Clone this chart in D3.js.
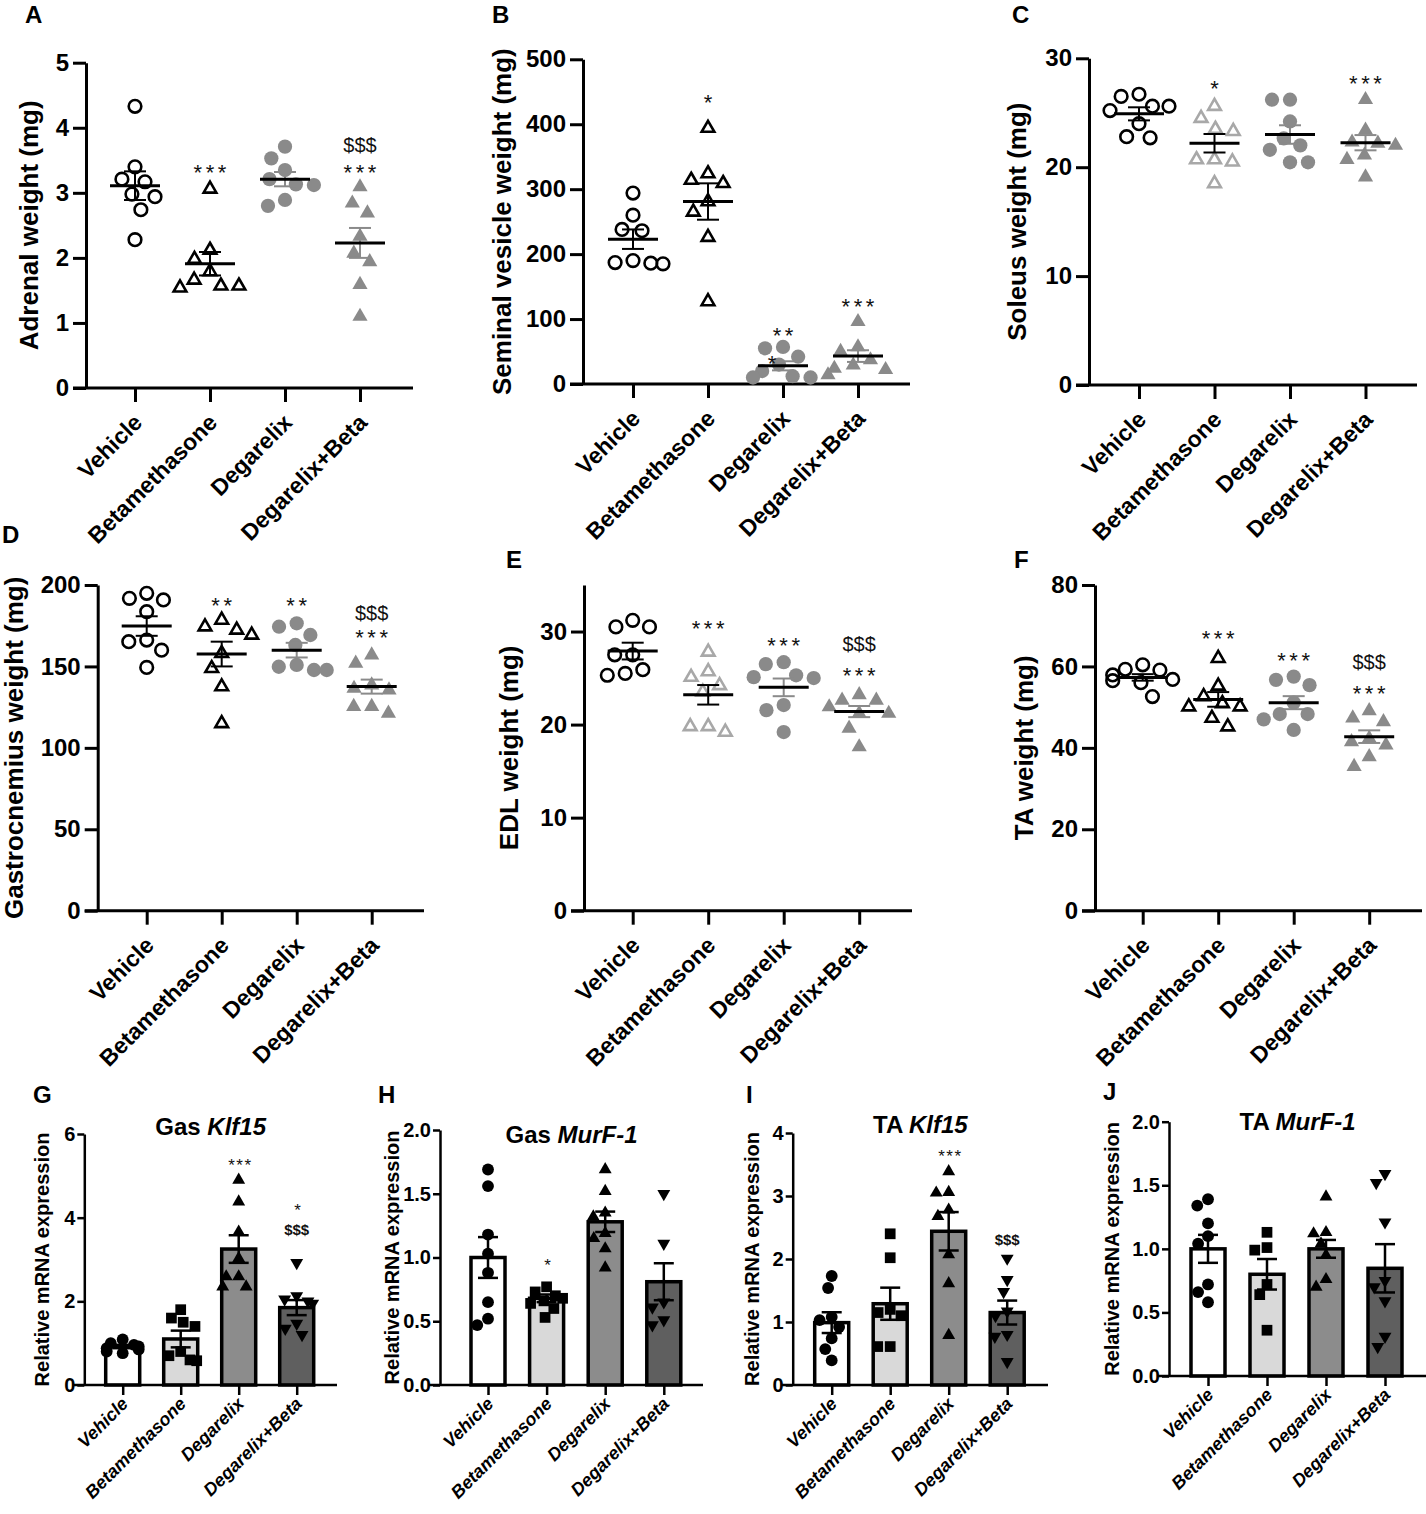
<!DOCTYPE html>
<html>
<head>
<meta charset="utf-8">
<script src="https://cdn.jsdelivr.net/npm/d3@7"></script>
<style>
  body { margin: 0; background: #fff; }
  svg { font-family: "Liberation Sans", Arial, Helvetica, sans-serif; }
</style>
</head>
<body>
<svg id="fig" width="1426" height="1514"></svg>
<script>
'use strict';

// Treatment groups (same order in every panel)
var groups = ['Vehicle', 'Betamethasone', 'Degarelix', 'Degarelix+Beta'];

// A: adrenal weight (mg)
var adrenalVals = [
  [4.33, 3.40, 3.21, 3.17, 2.98, 2.94, 2.74, 2.28],
  [3.06, 2.12, 1.98, 1.79, 1.66, 1.57, 1.57, 1.54],
  [3.71, 3.53, 3.35, 3.21, 3.13, 3.12, 2.89, 2.80],
  [3.09, 2.84, 2.69, 2.33, 2.07, 1.94, 1.59, 1.10]
];
var adrenalMean = [3.11, 1.91, 3.21, 2.23];
var adrenalSem = [0.22, 0.18, 0.11, 0.23];
var adrenalTicks = [0, 1, 2, 3, 4, 5];
var adrenalNotes = [[1, '***', 3.40], [3, '***', 3.40], [3, '$$$', 3.74]];

// B: seminal vesicle weight (mg)
var seminalVals = [
  [294, 260, 238, 236, 190, 187, 186, 185],
  [394, 324, 314, 309, 281, 265, 226, 127],
  [57, 55, 42, 30, 20, 12, 10, 10],
  [96, 57, 50, 37, 29, 24, 22, 14]
];
var seminalMean = [223, 281, 28, 43];
var seminalSem = [15, 28, 7, 9];
var seminalTicks = [0, 100, 200, 300, 400, 500];
var seminalNotes = [[1, '*', 442], [2, '**', 83], [2, '*', 40, -11], [3, '***', 127]];

// C: soleus weight (mg)
var soleusVals = [
  [26.7, 26.5, 25.6, 25.6, 25.2, 24.0, 22.8, 22.7],
  [25.6, 24.5, 23.5, 23.3, 20.7, 20.7, 20.5, 18.5],
  [26.2, 26.2, 24.2, 22.65, 22.0, 21.6, 20.45, 20.45],
  [26.2, 23.4, 22.3, 22.2, 22.0, 21.1, 20.7, 19.1]
];
var soleusMean = [24.9, 22.2, 23.0, 22.25];
var soleusSem = [0.6, 0.85, 0.85, 0.7];
var soleusTicks = [0, 10, 20, 30];
var soleusNotes = [[1, '*', 27.7], [3, '***', 28.2]];

// D: gastrocnemius weight (mg)
var gastroVals = [
  [194.9, 191.8, 190.8, 183.6, 166.2, 165.2, 160, 149.4],
  [178.5, 174.4, 172.4, 169.3, 158, 148.8, 137.6, 115],
  [176.5, 174.4, 169.3, 163.2, 150.9, 149.8, 147.8, 147.8],
  [157, 151.9, 138.6, 136.5, 135.5, 125.3, 125.3, 121.2]
];
var gastroMean = [174.8, 157.6, 160, 137.6];
var gastroSem = [6, 7.6, 4.5, 4.3];
var gastroTicks = [0, 50, 100, 150, 200];
var gastroNotes = [[1, '**', 190.8], [2, '**', 190.8], [3, '***', 170.8], [3, '$$$', 182.5]];

// E: EDL weight (mg)
var edlVals = [
  [31.2, 30.5, 30.5, 27.5, 27.5, 25.9, 25.5, 25.3],
  [27.8, 25.7, 25.1, 24.2, 23.5, 19.8, 19.8, 19.2],
  [26.7, 26.5, 25.3, 25.1, 25.0, 22.1, 21.55, 19.2],
  [23.2, 22.6, 22.6, 21.9, 21.2, 21.2, 19.6, 17.6]
];
var edlMean = [27.9, 23.2, 24.0, 21.4];
var edlSem = [0.9, 1.05, 0.95, 0.6];
var edlTicks = [0, 10, 20, 30];
var edlNotes = [[1, '***', 30.9], [2, '***', 29.1], [3, '***', 25.85], [3, '$$$', 28.7]];

// F: TA weight (mg)
var taVals = [
  [60.4, 59.3, 59.1, 57.9, 56.8, 56.5, 56.0, 52.6],
  [62.0, 55.2, 52.6, 50.9, 50.1, 50.1, 47.3, 45.2],
  [57.5, 56.7, 55.4, 51.1, 48.3, 48.3, 47.0, 44.4],
  [49.1, 47.3, 46.4, 42.3, 41.5, 40.7, 37.8, 35.4]
];
var taMean = [57.3, 51.9, 51.1, 42.75];
var taSem = [0.8, 1.8, 1.6, 1.55];
var taTicks = [0, 20, 40, 60, 80];
var taNotes = [[1, '***', 68.1], [2, '***', 62.8], [3, '***', 54.6], [3, '$$$', 61.2]];

// G: Gas Klf15 relative mRNA
var gasKlfVals = [
  [1.09, 1.0, 0.96, 0.92, 0.88, 0.85, 0.8, 0.76],
  [1.80, 1.60, 1.50, 1.40, 0.80, 0.70, 0.60, 0.58],
  [4.9, 4.38, 3.66, 3.03, 2.59, 2.59, 2.35, 2.35],
  [2.92, 2.13, 2.05, 2.0, 1.95, 1.47, 1.35, 1.2]
];
var gasKlfMean = [0.92, 1.10, 3.25, 1.85];
var gasKlfSem = [0.04, 0.2, 0.33, 0.18];
var gasKlfTicks = [0, 2, 4, 6];
var gasKlfNotes = [[2, '***', 5.34], [3, '*', 4.28], [3, '$$$', 3.7]];

// H: Gas MurF-1 relative mRNA
var gasMurfVals = [
  [1.69, 1.56, 1.18, 1.03, 0.88, 0.65, 0.52, 0.47],
  [0.77, 0.73, 0.70, 0.68, 0.66, 0.64, 0.60, 0.53],
  [1.69, 1.52, 1.35, 1.32, 1.19, 1.15, 1.07, 0.92],
  [1.50, 1.11, 0.65, 0.61, 0.51, 0.47]
];
var gasMurfMean = [1.0, 0.68, 1.28, 0.81];
var gasMurfSem = [0.16, 0.03, 0.08, 0.145];
var gasMurfTicks = [0, 0.5, 1.0, 1.5, 2.0];
var gasMurfNotes = [[1, '*', 0.97]];

// I: TA Klf15 relative mRNA
var taKlfVals = [
  [1.73, 1.54, 1.08, 1.03, 0.92, 0.74, 0.57, 0.39],
  [2.40, 2.02, 1.20, 1.15, 1.10, 0.61, 0.61],
  [3.39, 3.06, 3.05, 2.78, 2.68, 2.07, 1.61, 0.79],
  [2.01, 1.67, 1.48, 1.17, 1.10, 0.80, 0.77, 0.37]
];
var taKlfMean = [0.99, 1.29, 2.44, 1.15];
var taKlfSem = [0.165, 0.255, 0.305, 0.19];
var taKlfTicks = [0, 1, 2, 3, 4];
var taKlfNotes = [[2, '***', 3.69], [3, '$$$', 2.3]];

// J: TA MurF-1 relative mRNA
var taMurfVals = [
  [1.39, 1.34, 1.20, 1.10, 1.04, 0.72, 0.66, 0.58],
  [1.13, 1.01, 0.99, 0.72, 0.64, 0.36],
  [1.41, 1.13, 1.12, 1.04, 0.95, 0.76, 0.70],
  [1.59, 1.52, 1.21, 0.75, 0.70, 0.59, 0.31, 0.23]
];
var taMurfMean = [1.0, 0.80, 1.0, 0.847];
var taMurfSem = [0.11, 0.12, 0.07, 0.19];
var taMurfTicks = [0, 0.5, 1.0, 1.5, 2.0];
var taMurfNotes = [];

// Panel layout (pixels) and which data each panel uses
var panels = [
  { letter: 'A', lx: 25, ly: 23, type: 'dot', vals: adrenalVals, mean: adrenalMean, sem: adrenalSem, ticks: adrenalTicks, notes: adrenalNotes,
    max: 5, fmt: 'd', title: 'Adrenal weight (mg)', tx: 38, ax: 86, top: 62.7, bot: 388, right: 413, first: 49, step: 75, beta: 'black' },
  { letter: 'B', lx: 492, ly: 23, type: 'dot', vals: seminalVals, mean: seminalMean, sem: seminalSem, ticks: seminalTicks, notes: seminalNotes,
    max: 500, fmt: 'd', title: 'Seminal vesicle weight (mg)', tx: 511, ax: 583, top: 59.3, bot: 384, right: 910, first: 50, step: 75, beta: 'black' },
  { letter: 'C', lx: 1012, ly: 23, type: 'dot', vals: soleusVals, mean: soleusMean, sem: soleusSem, ticks: soleusTicks, notes: soleusNotes,
    max: 30, fmt: 'd', title: 'Soleus weight (mg)', tx: 1026, ax: 1089, top: 58.3, bot: 385, right: 1417, first: 50, step: 75.5, beta: 'light' },
  { letter: 'D', lx: 2, ly: 543, type: 'dot', vals: gastroVals, mean: gastroMean, sem: gastroSem, ticks: gastroTicks, notes: gastroNotes,
    max: 200, fmt: 'd', title: 'Gastrocnemius weight (mg)', tx: 23, ax: 97.7, top: 585, bot: 910.7, right: 424, first: 49, step: 75, beta: 'black' },
  { letter: 'E', lx: 506, ly: 568, type: 'dot', vals: edlVals, mean: edlMean, sem: edlSem, ticks: edlTicks, notes: edlNotes,
    max: 35, fmt: 'd', title: 'EDL weight (mg)', tx: 518, ax: 584, top: 585, bot: 910.7, right: 912, first: 48.7, step: 75.5, beta: 'light' },
  { letter: 'F', lx: 1014, ly: 568, type: 'dot', vals: taVals, mean: taMean, sem: taSem, ticks: taTicks, notes: taNotes,
    max: 80, fmt: 'd', title: 'TA weight (mg)', tx: 1033, ax: 1095, top: 585, bot: 910.7, right: 1422, first: 47.7, step: 75.5, beta: 'black' },
  { letter: 'G', lx: 33, ly: 1103, type: 'bar', vals: gasKlfVals, mean: gasKlfMean, sem: gasKlfSem, ticks: gasKlfTicks, notes: gasKlfNotes,
    max: 6, fmt: 'd', gene: ['Gas ', 'Klf15'], gy: 1135, tx: 49, ax: 84.3, top: 1134, bot: 1385, right: 337, first: 38.4, step: 58 },
  { letter: 'H', lx: 378, ly: 1103, type: 'bar', vals: gasMurfVals, mean: gasMurfMean, sem: gasMurfSem, ticks: gasMurfTicks, notes: gasMurfNotes,
    max: 2, fmt: '.1f', gene: ['Gas ', 'MurF-1'], gy: 1143, tx: 399, ax: 440, top: 1130, bot: 1385, right: 703, first: 48, step: 58.6 },
  { letter: 'I', lx: 746, ly: 1103, type: 'bar', vals: taKlfVals, mean: taKlfMean, sem: taKlfSem, ticks: taKlfTicks, notes: taKlfNotes,
    max: 4, fmt: 'd', gene: ['TA ', 'Klf15'], gy: 1133, tx: 759, ax: 792.7, top: 1133, bot: 1385, right: 1048, first: 39, step: 58.5 },
  { letter: 'J', lx: 1103, ly: 1100, type: 'bar', vals: taMurfVals, mean: taMurfMean, sem: taMurfSem, ticks: taMurfTicks, notes: taMurfNotes,
    max: 2, fmt: '.1f', gene: ['TA ', 'MurF-1'], gy: 1130, tx: 1119, ax: 1169, top: 1121.7, bot: 1376, right: 1426, first: 39, step: 59 }
];

var grey = '#8a8a8a';
var lightGrey = '#a8a8a8';
var barFills = ['#ffffff', '#d9d9d9', '#8c8c8c', '#5f5f5f'];

// Simple beeswarm: place points one by one at the smallest offset that does not overlap
function swarm(vals, y, d, maxOff) {
  var pts = vals.map(function(v) { return { v: v, py: y(v) }; })
    .sort(function(a, b) { return a.py - b.py; });
  var placed = [];
  pts.forEach(function(p) {
    var cands = [0];
    placed.forEach(function(q) {
      var dy = p.py - q.py;
      if (Math.abs(dy) < d) {
        var w = Math.sqrt(d * d - dy * dy);
        cands.push(q.x - w, q.x + w);
      }
    });
    cands.sort(function(a, b) { return Math.abs(a) - Math.abs(b); });
    var best = cands.find(function(c) {
      return placed.every(function(q) {
        return (c - q.x) * (c - q.x) + (p.py - q.py) * (p.py - q.py) >= d * d - 0.01;
      });
    });
    if (best === undefined) best = 0;
    if (Math.abs(best) > maxOff) best = Math.sign(best) * maxOff;
    p.x = best;
    placed.push(p);
  });
  return placed;
}

function dotStyle(i, p) {
  if (i === 0) return { type: d3.symbolCircle, size: 125, fill: 'none', stroke: '#000', sw: 2.6, semColor: '#000' };
  if (i === 1) {
    var c = p.beta === 'light' ? lightGrey : '#000';
    return { type: d3.symbolTriangle, size: 70, fill: 'none', stroke: c, sw: 2.6, semColor: '#000' };
  }
  if (i === 2) return { type: d3.symbolCircle, size: 160, fill: grey, stroke: 'none', sw: 0, semColor: grey };
  return { type: d3.symbolTriangle, size: 100, fill: grey, stroke: 'none', sw: 0, semColor: grey };
}

var barSymbols = [
  { type: d3.symbolCircle, size: 110, rot: 0 },
  { type: d3.symbolSquare, size: 115, rot: 0 },
  { type: d3.symbolTriangle, size: 72, rot: 0 },
  { type: d3.symbolTriangle, size: 72, rot: 180 }
];

var svg = d3.select('#fig');

panels.forEach(function(p) {
  var isBar = p.type === 'bar';
  var g = svg.append('g');
  var y = d3.scaleLinear().domain([0, p.max]).range([p.bot, p.top]);
  var x = d3.scalePoint().domain(groups).range([p.ax + p.first, p.ax + p.first + 3 * p.step]);
  var axisW = isBar ? 2.5 : 3;
  var tickLen = isBar ? 7 : 13;
  var baseStart = isBar ? 11 : 13;

  // panel letter
  g.append('text')
    .attr('x', p.lx).attr('y', p.ly)
    .attr('font-size', 24).attr('font-weight', 'bold')
    .text(p.letter);

  // bars
  if (isBar) {
    g.selectAll('rect.bar').data(groups).enter().append('rect')
      .attr('class', 'bar')
      .attr('x', function(d) { return x(d) - 17; })
      .attr('width', 34)
      .attr('y', function(d, i) { return y(p.mean[i]); })
      .attr('height', function(d, i) { return y(0) - y(p.mean[i]); })
      .attr('fill', function(d, i) { return barFills[i]; })
      .attr('stroke', '#000')
      .attr('stroke-width', 3.5);
  }

  // y axis
  var yAxis = g.append('g')
    .attr('transform', 'translate(' + p.ax + ',0)')
    .call(d3.axisLeft(y).tickValues(p.ticks).tickSize(tickLen).tickSizeOuter(0)
      .tickPadding(isBar ? 2 : 4).tickFormat(d3.format(p.fmt)));
  yAxis.attr('font-family', null).attr('font-size', null);
  yAxis.select('.domain').attr('stroke-width', axisW);
  yAxis.selectAll('.tick line').attr('stroke-width', axisW);
  yAxis.selectAll('.tick text')
    .attr('font-size', isBar ? 20 : 24)
    .attr('font-weight', 'bold')
    .attr('fill', '#000');

  // x axis
  g.append('line')
    .attr('x1', p.ax - baseStart).attr('x2', p.right)
    .attr('y1', p.bot).attr('y2', p.bot)
    .attr('stroke', '#000').attr('stroke-width', axisW);
  var xAxis = g.append('g')
    .attr('transform', 'translate(0,' + p.bot + ')')
    .call(d3.axisBottom(x).tickSize(isBar ? 10 : 14).tickSizeOuter(0));
  xAxis.attr('font-family', null).attr('font-size', null);
  xAxis.select('.domain').remove();
  xAxis.selectAll('.tick line').attr('stroke-width', axisW);
  xAxis.selectAll('.tick text')
    .attr('y', 0).attr('dy', 0)
    .attr('transform', isBar ? 'translate(6,20) rotate(-45)' : 'translate(8,36) rotate(-45)')
    .attr('text-anchor', 'end')
    .attr('font-size', isBar ? 18 : 23)
    .attr('font-weight', 'bold')
    .attr('font-style', isBar ? 'italic' : 'normal')
    .attr('fill', '#000');

  // y title
  g.append('text')
    .attr('transform', 'translate(' + p.tx + ',' + ((p.top + p.bot) / 2) + ') rotate(-90)')
    .attr('text-anchor', 'middle')
    .attr('font-size', isBar ? 20 : 26)
    .attr('font-weight', 'bold')
    .text(isBar ? 'Relative mRNA expression' : p.title);

  // gene title for the mRNA panels
  if (isBar) {
    var t = g.append('text')
      .attr('x', (p.ax + p.right) / 2).attr('y', p.gy)
      .attr('text-anchor', 'middle')
      .attr('font-size', 24).attr('font-weight', 'bold');
    t.append('tspan').text(p.gene[0]);
    t.append('tspan').attr('font-style', 'italic').text(p.gene[1]);
  }

  // points
  groups.forEach(function(grp, i) {
    var cx = x(grp);
    var pts = swarm(p.vals[i], y, isBar ? 12.5 : 18, isBar ? 16 : 30);
    if (isBar) {
      var bs = barSymbols[i];
      g.selectAll('path.pt' + i).data(pts).enter().append('path')
        .attr('d', d3.symbol().type(bs.type).size(bs.size))
        .attr('transform', function(d) { return 'translate(' + (cx + d.x) + ',' + d.py + ') rotate(' + bs.rot + ')'; })
        .attr('fill', '#000');
    } else {
      var st = dotStyle(i, p);
      g.selectAll('path.pt' + i).data(pts).enter().append('path')
        .attr('d', d3.symbol().type(st.type).size(st.size))
        .attr('transform', function(d) { return 'translate(' + (cx + d.x) + ',' + d.py + ')'; })
        .attr('fill', st.fill)
        .attr('stroke', st.stroke)
        .attr('stroke-width', st.sw);
    }
  });

  // mean and SEM
  groups.forEach(function(grp, i) {
    var cx = x(grp);
    var m = p.mean[i], s = p.sem[i];
    var col = isBar ? '#000' : dotStyle(i, p).semColor;
    var cap = isBar ? 10 : 11;
    var w = isBar ? 2.5 : 2;
    g.append('line').attr('x1', cx).attr('x2', cx)
      .attr('y1', y(m - s)).attr('y2', y(m + s))
      .attr('stroke', col).attr('stroke-width', w);
    [m - s, m + s].forEach(function(v) {
      g.append('line').attr('x1', cx - cap).attr('x2', cx + cap)
        .attr('y1', y(v)).attr('y2', y(v))
        .attr('stroke', col).attr('stroke-width', w);
    });
    if (!isBar) {
      g.append('line').attr('x1', cx - 25).attr('x2', cx + 25)
        .attr('y1', y(m)).attr('y2', y(m))
        .attr('stroke', '#000').attr('stroke-width', 3);
    }
  });

  // significance marks
  p.notes.forEach(function(n) {
    var star = n[1].charAt(0) === '*';
    var fs = isBar ? (star ? 17 : 15) : (star ? 22 : 20);
    g.append('text')
      .attr('x', x(groups[n[0]]) + (n[3] || 0) + (star ? 1.7 : 0))
      .attr('y', y(n[2]) + fs * (star ? 0.58 : 0.35))
      .attr('text-anchor', 'middle')
      .attr('font-size', fs)
      .attr('font-weight', isBar && !star ? 'bold' : 'normal')
      .attr('letter-spacing', star ? (isBar ? 1.5 : 3.5) : 0)
      .attr('fill', '#111')
      .text(n[1]);
  });
});
</script>
</body>
</html>
